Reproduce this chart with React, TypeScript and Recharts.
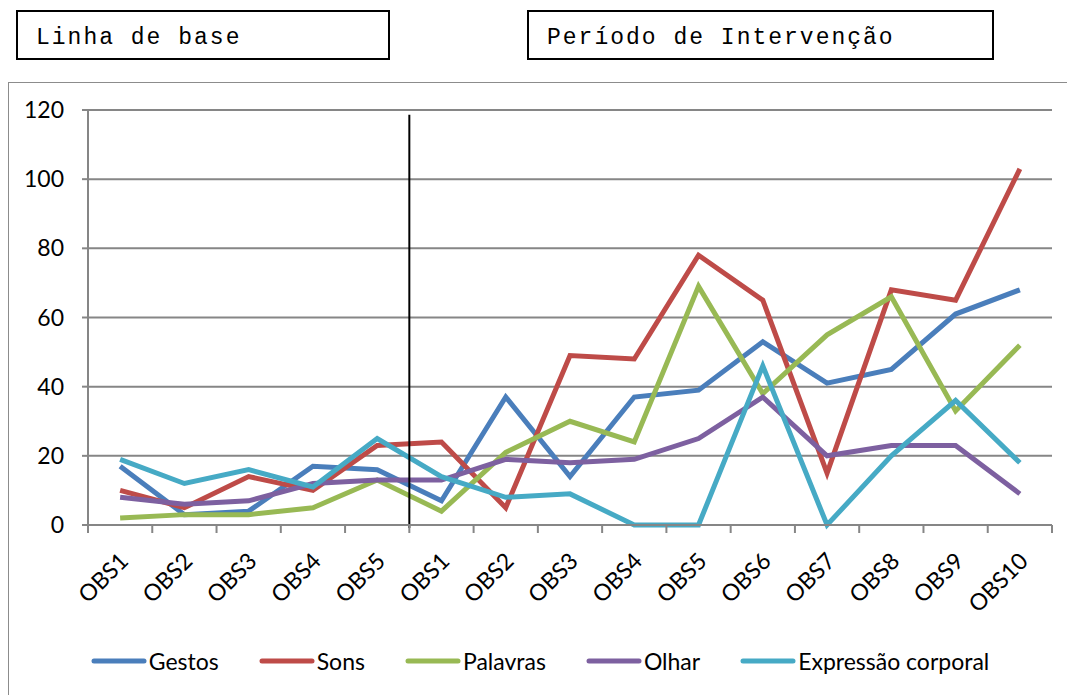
import React from "react";
import {
  LineChart,
  Line,
  XAxis,
  YAxis,
  CartesianGrid,
  Legend,
  ReferenceLine
} from "recharts";

const categories = [
  "OBS1", "OBS2", "OBS3", "OBS4", "OBS5",
  "OBS1", "OBS2", "OBS3", "OBS4", "OBS5",
  "OBS6", "OBS7", "OBS8", "OBS9", "OBS10"
];
const gestos = [17, 3, 4, 17, 16, 7, 37, 14, 37, 39, 53, 41, 45, 61, 68];
const sons = [10, 5, 14, 10, 23, 24, 5, 49, 48, 78, 65, 15, 68, 65, 103];
const palavras = [2, 3, 3, 5, 13, 4, 21, 30, 24, 69, 38, 55, 66, 33, 52];
const olhar = [8, 6, 7, 12, 13, 13, 19, 18, 19, 25, 37, 20, 23, 23, 9];
const expressao = [19, 12, 16, 11, 25, 14, 8, 9, 0, 0, 46, 0, 20, 36, 18];
const yTicks = [0, 20, 40, 60, 80, 100, 120];
// first category of the intervention period
const interventionStart = 5;

const series = [
  { key: "gestos", name: "Gestos", color: "#4A7EBB" },
  { key: "sons", name: "Sons", color: "#BE4B48" },
  { key: "palavras", name: "Palavras", color: "#98B954" },
  { key: "olhar", name: "Olhar", color: "#7D60A0" },
  { key: "expressao", name: "Expressão corporal", color: "#46AAC5" }
];

const data = categories.map((c, i) => ({
  idx: i,
  gestos: gestos[i],
  sons: sons[i],
  palavras: palavras[i],
  olhar: olhar[i],
  expressao: expressao[i]
}));

const font = "Lato, 'Noto Sans', sans-serif";
const mono = "'Courier New', 'Liberation Mono', monospace";
const axisGray = "#868686";

// label at band centre, Excel-style tick marks on the band edges
function XTick(props: any) {
  const { x, y, payload, index, visibleTicksCount } = props;
  const off = payload?.offset ?? 0;
  const axisY = y - 26;
  const last = index === visibleTicksCount - 1;
  const tx = x - 2;
  return (
    <g>
      <line x1={x - off} y1={axisY} x2={x - off} y2={axisY + 8} stroke={axisGray} strokeWidth={2} />
      {last && (
        <line x1={x + off} y1={axisY} x2={x + off} y2={axisY + 8} stroke={axisGray} strokeWidth={2} />
      )}
      <text
        x={tx}
        y={y}
        transform={`rotate(-45, ${tx}, ${y})`}
        textAnchor="end"
        fontFamily={font}
        fontSize={23}
        fill="#000"
      >
        <tspan x={tx} dy="0.71em">{categories[payload.value]}</tspan>
      </text>
    </g>
  );
}

function LegendContent() {
  return (
    <div
      style={{
        display: "flex",
        justifyContent: "center",
        alignItems: "center",
        gap: 40,
        fontFamily: font,
        fontSize: 23,
        color: "#000",
        paddingTop: 12
      }}
    >
      {series.map((s) => (
        <div key={s.key} style={{ display: "flex", alignItems: "center" }}>
          <svg width={56} height={10}>
            <line x1={3} y1={5} x2={53} y2={5} stroke={s.color} strokeWidth={5} strokeLinecap="round" />
          </svg>
          <span style={{ marginLeft: 2 }}>{s.name}</span>
        </div>
      ))}
    </div>
  );
}

const boxStyle: React.CSSProperties = {
  position: "absolute",
  top: 2,
  height: 50,
  border: "2px solid #000",
  fontFamily: mono,
  fontSize: 23,
  letterSpacing: 2,
  display: "flex",
  alignItems: "center",
  paddingLeft: 18,
  paddingTop: 6,
  boxSizing: "border-box"
};

function App() {
  return (
    <div style={{ position: "relative", width: 1067, height: 687, overflow: "hidden", background: "#fff" }}>
      <div style={{ ...boxStyle, left: 8, width: 374 }}>Linha de base</div>
      <div style={{ ...boxStyle, left: 519, width: 467 }}>Período de Intervenção</div>
      <div
        style={{
          position: "absolute",
          left: 0,
          top: 74,
          width: 1100,
          height: 700,
          border: "1.5px solid #8c8c8c"
        }}
      />
      <div style={{ position: "absolute", left: 0, top: 74 }}>
        <LineChart
          width={1067}
          height={613}
          data={data}
          margin={{ top: 28, right: 23, left: 20, bottom: 0 }}
        >
          <CartesianGrid vertical={false} stroke={axisGray} strokeWidth={2} />
          <XAxis
            dataKey="idx"
            type="category"
            scale="band"
            interval={0}
            height={110}
            tickLine={false}
            tickSize={8}
            tickMargin={18}
            axisLine={{ stroke: axisGray, strokeWidth: 2 }}
            tick={<XTick />}
          />
          <YAxis
            domain={[0, 120]}
            ticks={yTicks}
            width={60}
            tickSize={6}
            tickMargin={18}
            axisLine={{ stroke: axisGray, strokeWidth: 2 }}
            tickLine={{ stroke: axisGray, strokeWidth: 2 }}
            tick={{ fontFamily: font, fontSize: 23, fill: "#000" }}
          />
          <Legend verticalAlign="bottom" height={60} content={<LegendContent />} />
          {series.map((s) => (
            <Line
              key={s.key}
              type="linear"
              dataKey={s.key}
              name={s.name}
              stroke={s.color}
              strokeWidth={5}
              dot={false}
              isAnimationActive={false}
            />
          ))}
          <ReferenceLine
            ifOverflow="visible"
            position="start"
            segment={[{ x: interventionStart, y: 118.6 }, { x: interventionStart, y: -0.9 }]}
            stroke="#000"
            strokeWidth={2}
          />
        </LineChart>
      </div>
    </div>
  );
}

export default App;
